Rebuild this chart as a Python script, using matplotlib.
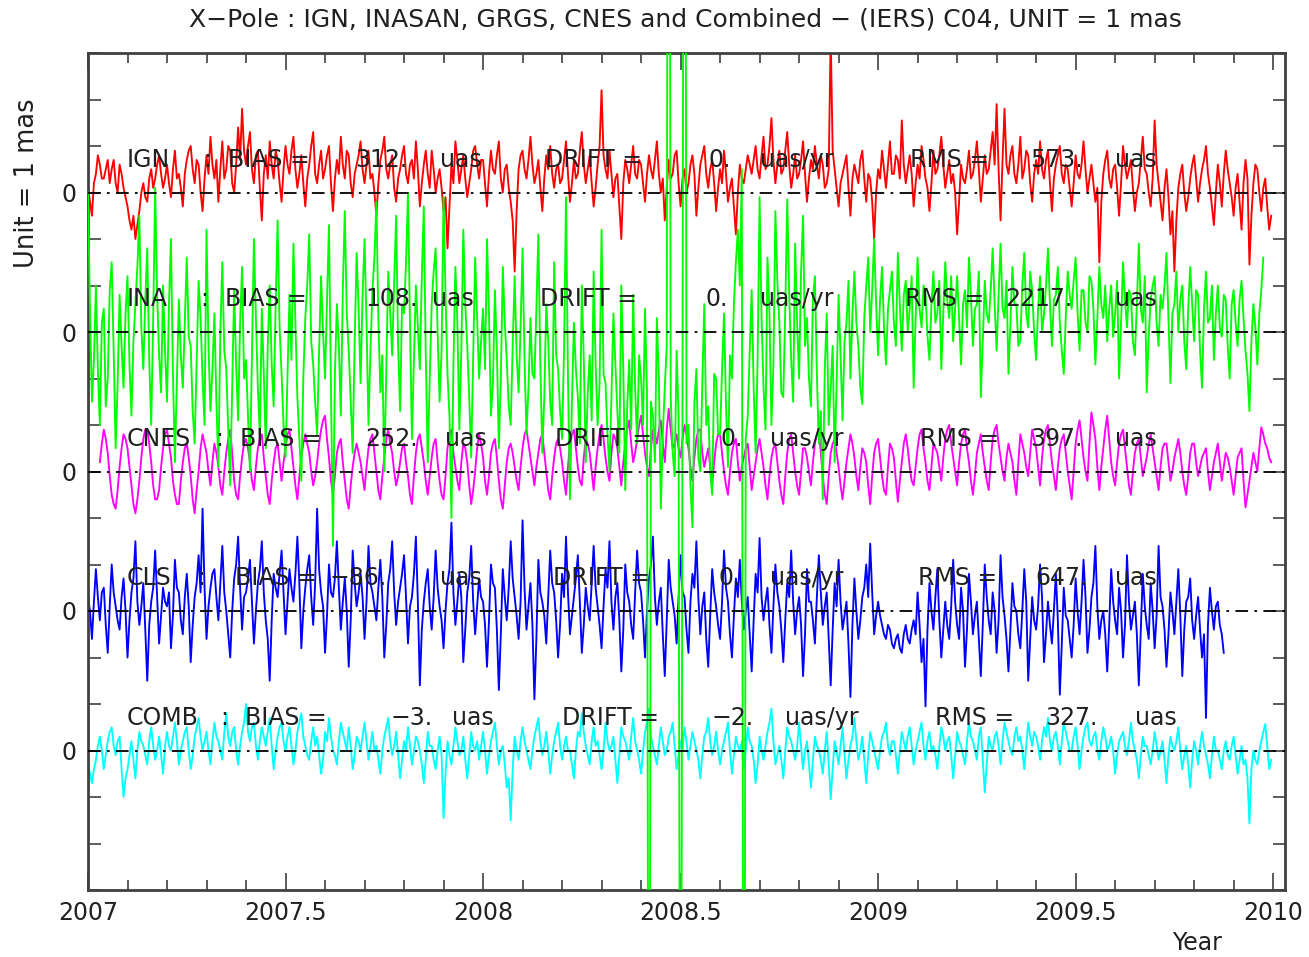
import numpy as np
import matplotlib
matplotlib.use("Agg")
import matplotlib.pyplot as plt
from matplotlib.ticker import MultipleLocator, FixedLocator, FuncFormatter

# ---------------- data (mas, relative to each series' zero line) ----------------
step = 0.005
names = ["IGN", "INA", "CNES", "CLS", "COMB"]
bias = [312, 108, 252, -86, -3]
drift = [0, 0, 0, 0, -2]
rms = [573, 2217, 397, 647, 327]
offsets = [12, 9, 6, 3, 0]
colors = ["#ff0000", "#00ff00", "#ff00ff", "#0000ff", "#00ffff"]
starts = [2007.00, 2007.00, 2007.03, 2007.00, 2007.00]

ign = [0.1,-0.2,-0.5,0.2,0.4,0.8,0.6,0.3,0.3,0.5,0.7,0.2,0.5,0.7,0.2,0.0,0.6,0.4,0.1,-0.1,
       -0.3,-0.6,-0.8,-0.5,-1.0,-0.7,-0.4,0.0,0.2,-0.1,-0.2,0.3,0.5,0.1,0.3,0.6,0.8,0.4,0.1,0.3,
       0.6,0.2,-0.1,0.5,0.9,0.3,0.4,0.1,-0.3,0.4,0.7,0.9,1.0,0.5,0.2,0.7,0.6,0.0,-0.4,0.3,
       0.8,0.4,1.2,0.6,0.3,0.7,-0.2,0.5,1.1,0.3,0.5,1.0,0.9,0.2,0.0,0.6,1.4,0.7,1.8,0.9,
       0.6,1.0,1.3,0.5,0.2,0.8,0.9,0.1,-0.6,0.4,0.8,0.3,1.1,0.6,0.3,0.9,0.7,0.2,-0.2,0.5,
       1.0,0.6,0.4,0.9,1.2,0.5,0.1,0.4,0.8,0.2,-0.3,0.3,0.6,1.0,1.3,0.4,0.2,0.6,0.9,0.3,
       0.5,0.8,1.0,0.2,-0.4,0.3,0.7,0.4,1.2,0.6,0.3,0.9,0.8,0.2,-0.1,0.4,0.6,0.8,1.1,0.5,
       0.2,0.6,0.9,0.3,0.4,0.0,-0.5,0.2,0.7,0.9,1.2,0.5,0.3,0.6,0.8,0.1,-0.2,0.3,0.5,0.8,
       1.0,0.4,0.2,0.6,0.7,0.3,1.1,0.5,-0.3,0.2,0.6,0.9,0.4,0.1,0.9,0.5,0.0,0.3,0.5,0.1,
       -0.4,-0.1,-1.2,-0.3,0.6,0.2,1.1,0.7,0.2,0.5,0.8,0.3,-0.1,0.2,0.5,0.9,1.0,0.6,0.3,0.7,
       0.7,0.2,-0.3,0.4,0.9,0.5,0.4,0.8,1.1,0.3,0.0,0.5,0.6,0.1,-0.2,-0.6,-1.7,-0.4,0.5,0.8,
       0.9,0.5,0.3,0.7,1.2,0.6,0.2,0.4,0.7,0.1,-0.4,0.3,0.8,0.5,1.0,0.4,0.1,0.5,0.6,0.2,
       0.3,0.7,1.1,0.4,-0.2,0.2,0.7,0.3,0.4,0.9,1.3,0.6,0.2,0.5,0.8,0.2,-0.3,0.1,0.6,1.0,
       2.2,0.8,0.5,0.3,0.9,0.4,-0.1,0.3,0.4,-0.3,-1.0,0.2,0.7,0.5,0.2,0.6,1.0,0.4,0.3,0.7,
       0.6,0.2,-0.2,0.4,0.8,0.5,0.3,0.7,1.1,0.4,0.0,0.3,-0.6,0.1,0.7,0.3,0.4,0.8,0.9,0.2,
       -0.3,0.3,0.5,0.0,0.2,0.6,0.8,0.4,-0.5,0.1,0.6,0.8,1.0,0.4,0.1,0.5,0.7,0.2,-0.4,0.1,
       0.5,0.2,0.9,0.4,-0.2,0.1,0.3,-0.3,-0.9,0.0,0.6,0.3,0.2,0.5,0.8,0.6,0.4,0.7,1.0,0.5,
       0.3,0.8,1.2,0.5,0.6,1.0,1.6,0.7,0.2,0.6,0.9,0.4,0.5,0.9,1.3,0.6,0.1,0.4,0.8,0.3,
       0.4,0.7,1.1,0.4,-0.2,0.3,0.7,0.5,1.0,0.6,0.3,0.8,0.6,0.1,0.2,0.5,3.4,0.9,0.5,0.1,
       -0.3,0.2,0.4,0.6,0.8,0.1,-0.5,0.3,0.6,0.4,0.2,0.7,0.9,0.3,-0.2,0.4,0.3,-0.2,-1.0,0.0,
       0.5,0.3,0.9,0.5,0.1,0.6,1.1,0.4,0.4,0.8,0.7,0.3,1.55,0.6,0.2,0.5,0.8,0.4,-0.3,0.2,
       0.6,0.3,1.0,0.7,0.3,0.1,-0.4,0.2,0.9,0.4,0.5,0.8,1.2,0.6,0.1,0.4,0.7,0.2,0.4,0.0,
       -0.9,-0.2,0.6,0.3,0.2,0.5,0.9,0.3,0.4,0.7,1.1,0.5,-0.2,0.3,0.8,0.4,0.5,0.9,1.3,0.6,
       1.9,0.5,-0.6,0.7,1.8,0.6,0.4,0.8,1.0,0.4,0.2,0.6,1.2,0.3,0.5,0.9,0.8,0.2,-0.2,0.4,
       0.7,0.4,1.1,0.5,0.3,0.7,0.9,0.2,-0.4,0.3,0.6,0.8,1.0,0.4,0.2,0.6,0.5,0.1,-0.3,0.2,
       0.8,0.4,0.3,0.6,1.1,0.5,0.0,0.3,0.6,0.2,-0.2,0.1,-1.5,-0.2,0.4,0.7,0.9,0.3,0.1,0.5,
       0.6,0.1,-0.5,0.2,1.0,0.6,0.3,0.5,0.7,0.1,-0.4,0.0,0.2,0.7,1.2,0.5,0.4,0.0,-0.3,0.3,
       1.55,0.6,0.2,-0.2,-0.6,0.1,0.5,-0.1,-0.9,-0.4,-1.7,-0.6,0.1,0.4,0.6,0.0,-0.4,-0.1,0.3,0.6,
       0.8,0.3,-0.2,0.2,0.5,0.7,1.0,0.4,0.1,-0.3,-0.7,0.0,0.6,0.2,-0.3,0.4,0.9,0.5,0.2,-0.1,
       -0.5,0.1,0.4,-0.2,-0.8,0.2,0.7,0.3,-1.55,-0.5,0.2,0.6,0.5,0.0,-0.4,0.1,0.3,-0.3,-0.8,-0.5]

ina = [3.0,0.5,-1.5,-0.6,1.0,-0.8,-2.0,0.2,0.5,-1.6,-1.0,0.9,1.5,-0.4,-2.5,-1.1,0.8,-0.3,-1.2,0.4,
       1.2,-0.7,-1.8,-0.2,0.6,1.4,2.5,0.1,-0.8,0.7,1.8,-0.6,-2.0,0.3,3.1,0.8,-0.5,-1.3,1.0,-0.4,
       -1.5,0.6,2.0,-0.9,-2.8,-1.0,0.7,-0.5,-1.2,0.2,1.6,-0.1,-0.3,-1.7,-2.4,-0.6,1.1,0.3,-1.0,-2.0,
       2.2,-0.3,-1.7,-0.8,0.4,-1.5,-2.9,0.0,1.5,-0.4,-0.8,-2.1,-3.3,-1.2,0.9,-0.7,-1.9,0.2,1.4,-1.0,
       -0.6,-1.8,-3.0,-0.5,2.0,0.3,-1.2,-2.2,0.5,-0.9,-2.5,-0.3,1.0,-0.7,-1.6,0.6,2.4,0.1,-0.9,-2.0,
       -2.7,-0.9,0.8,-0.6,1.9,0.2,-1.4,-2.3,-3.2,-1.0,0.3,1.0,2.1,-0.2,-0.7,-1.5,-2.2,-0.4,1.2,0.0,
       -1.0,0.7,2.3,-1.2,-4.6,-0.9,0.6,-0.3,-1.8,0.9,2.6,0.4,-0.4,-1.5,-2.6,-0.2,1.7,0.5,-1.1,0.8,
       2.0,0.2,-2.0,-0.4,0.9,1.6,2.8,0.3,-1.3,-0.5,-3.0,-0.8,1.3,0.4,-0.5,1.1,2.5,-0.3,-1.7,0.6,
       0.4,1.5,3.0,0.2,-2.3,-0.6,1.0,0.1,-0.8,1.2,2.7,-0.5,-2.8,-1.0,0.6,1.3,1.8,0.0,-1.5,-0.4,
       2.9,0.8,-0.9,-1.8,-4.0,-0.7,1.4,0.2,-2.1,-0.4,2.2,0.6,-0.3,-1.4,-2.7,-0.5,1.6,0.3,-1.0,-0.2,
       0.5,-0.8,2.0,0.4,-1.8,-1.1,0.9,-0.4,-2.5,-1.0,1.4,0.2,-0.6,-1.6,-2.0,-0.3,1.2,-0.5,-1.3,0.1,
       1.8,-0.6,-2.2,-1.2,0.3,-0.9,-1.0,0.5,2.1,-0.7,-2.6,-1.4,0.6,-0.2,-1.5,-2.0,1.5,-0.5,-0.8,-1.7,
       -2.3,-0.4,2.9,-1.0,-3.6,-1.5,0.2,-0.8,-1.4,-2.4,1.0,-0.6,-2.8,-1.3,-0.5,-1.9,1.3,-0.7,-2.0,-1.1,
       2.2,-0.9,-1.1,-2.2,-3.0,-1.4,0.4,-0.7,-1.7,-2.6,1.0,-0.8,-3.4,-1.6,-0.6,-2.1,0.8,-1.2,-2.4,-0.5,
       -1.0,-2.0,0.5,-1.3,-25.0,-1.5,-1.8,-2.8,0.3,-1.0,-3.8,-2.2,-1.2,-0.3,25.0,-1.4,-2.6,-3.1,-0.4,-1.8,
       -25.0,-1.2,25.0,-2.4,-2.0,-3.3,-4.2,-1.5,-0.8,-2.7,-3.0,-1.1,0.6,-2.0,-1.6,-3.0,-3.5,-0.9,-1.0,-2.2,
       -2.2,-0.8,0.4,-1.6,-2.9,-0.5,-1.0,0.6,1.5,2.2,1.0,3.5,-25.0,-2.3,-1.8,-0.4,0.9,-1.2,-2.6,-0.6,
       2.9,0.3,-1.2,-2.1,1.6,0.4,-2.0,-0.7,2.6,1.1,0.2,-1.3,-1.4,0.5,2.85,0.8,-0.6,-1.5,1.9,0.2,
       -1.0,1.3,2.5,-0.3,0.3,-1.0,-1.6,0.7,1.2,-0.9,-2.4,-1.7,-3.6,-0.8,0.4,-2.0,-1.2,-0.3,-2.8,-1.1,
       0.8,-0.5,-1.9,-0.2,0.2,1.1,-1.0,0.4,1.3,0.2,-0.3,-1.2,-1.55,0.3,1.0,1.6,0.0,0.9,2.0,0.6,
       -0.5,0.7,1.4,0.1,-0.7,0.5,0.9,1.3,0.2,-0.3,1.7,0.6,-0.4,0.8,1.1,0.0,0.5,1.2,-1.2,0.3,
       1.6,0.5,0.1,1.0,0.8,-0.1,-0.6,0.6,1.3,0.2,0.4,1.1,-0.8,0.4,1.5,0.7,0.3,1.2,-0.2,0.5,
       1.2,0.3,-0.7,0.6,0.9,0.1,1.6,0.8,-0.3,0.5,0.6,1.3,-1.4,-0.2,1.1,0.4,0.2,0.9,1.8,0.6,
       -0.4,0.8,1.9,0.5,0.3,1.1,-0.9,0.2,1.4,0.6,0.6,-0.3,-0.2,1.0,1.7,0.4,0.1,1.3,0.9,0.0,
       -0.6,0.5,1.2,0.0,0.4,1.0,1.8,0.6,-0.3,0.7,0.8,1.4,0.2,-0.4,-0.9,0.3,1.3,0.8,0.5,1.1,
       1.6,0.4,-0.4,0.9,0.9,0.2,0.0,1.2,1.1,0.5,-0.7,0.3,1.4,0.6,0.3,1.0,-0.2,0.5,1.0,-0.1,
       0.4,1.1,-1.0,0.2,1.5,0.7,0.1,0.9,0.8,-0.2,-0.5,0.6,1.9,0.5,0.2,1.2,-1.3,-0.1,0.7,1.0,
       1.2,0.2,-0.3,0.8,0.5,1.0,1.7,0.3,-1.1,0.4,0.6,1.3,0.0,0.7,1.0,-0.2,-0.8,0.5,1.4,0.6,
       -0.2,0.9,0.8,-0.4,-1.2,0.5,1.3,0.2,0.3,1.0,-0.6,0.4,1.0,0.1,-0.1,0.8,0.7,-0.3,-1.0,0.6,
       0.9,0.2,-0.3,0.7,1.1,0.3,-0.4,-0.9,-1.7,-0.2,0.6,0.1,-0.7,0.4,0.9,1.6]

cnes = [0.2,0.6,0.9,0.7,0.4,-0.1,-0.5,-0.7,-0.8,-0.4,0.1,0.5,0.8,0.7,
        0.5,0.1,-0.3,-0.7,-0.9,-0.6,-0.2,0.3,0.7,0.9,0.9,0.6,0.2,-0.3,-0.6,-0.6,-0.4,0.1,0.5,0.8,
        0.9,0.6,0.3,-0.2,-0.5,-0.7,-0.7,-0.2,0.2,0.5,0.6,0.3,-0.1,-0.6,-0.9,-0.4,0.0,0.5,0.8,0.6,
        0.4,0.0,-0.3,0.2,0.6,0.4,0.1,-0.3,-0.5,0.0,0.4,0.7,0.9,0.4,-0.2,-0.5,-0.6,-0.1,0.3,0.6,
        0.7,0.5,0.2,-0.2,-0.4,0.1,0.5,0.7,0.8,0.3,-0.1,-0.5,-0.7,-0.2,0.2,0.5,0.6,0.2,-0.2,0.2,
        0.5,0.8,0.9,0.5,0.1,-0.3,-0.6,-0.1,0.3,0.6,0.8,0.6,0.4,0.0,-0.3,-0.1,0.2,0.6,0.9,1.1,
        1.2,0.7,0.3,-0.2,-0.5,-0.1,0.4,0.6,0.7,0.2,-0.2,-0.6,-0.8,-0.3,0.1,0.4,0.6,0.4,0.2,-0.1,
        -0.4,0.1,0.5,0.7,0.8,0.4,0.0,-0.4,-0.6,-0.1,0.3,0.7,0.9,0.6,0.4,0.0,-0.3,-0.1,0.2,0.5,
        0.6,0.2,-0.1,-0.5,-0.7,-0.1,0.4,0.7,0.8,0.5,0.2,-0.2,-0.5,-0.1,0.3,0.6,0.7,0.2,-0.2,-0.5,
        -0.6,-0.1,0.5,0.8,0.9,0.4,0.1,-0.2,-0.4,0.2,0.6,0.5,0.2,-0.3,-0.7,-0.4,0.0,0.5,0.8,0.6,
        0.3,-0.2,-0.5,-0.1,0.4,0.6,0.7,0.3,-0.2,-0.6,-0.8,-0.3,0.2,0.5,0.6,0.4,0.1,-0.2,-0.4,0.1,
        0.5,0.8,0.9,0.6,0.3,0.0,-0.3,0.1,0.4,0.7,0.8,0.4,0.0,-0.4,-0.6,-0.1,0.3,0.6,0.7,0.5,
        0.2,-0.2,-0.5,0.1,0.6,0.8,0.9,0.5,0.1,-0.2,-0.3,0.3,0.7,0.6,0.4,0.0,-0.4,0.1,0.5,0.8,
        1.0,0.7,0.3,0.0,-0.2,0.4,0.8,0.7,0.5,0.1,-0.3,0.2,0.6,0.9,1.1,0.6,0.2,0.4,0.7,1.0,
        1.2,0.8,0.4,0.1,-0.1,0.5,0.9,0.8,0.6,0.9,1.1,0.6,0.2,0.9,1.35,0.9,0.5,0.6,0.8,0.5,
        0.3,0.7,1.0,0.8,0.5,0.1,-0.2,0.3,0.7,0.9,0.9,0.4,0.1,0.3,0.5,0.1,-0.3,0.2,0.6,0.8,
        0.8,0.4,0.0,-0.3,-0.5,0.0,0.4,0.6,0.7,0.2,-0.2,0.1,0.3,0.5,0.6,0.1,-0.4,-0.1,0.2,0.5,
        0.7,0.4,0.1,-0.3,-0.6,-0.1,0.3,0.5,0.6,0.2,-0.2,-0.5,-0.7,-0.1,0.4,0.7,0.8,0.4,0.0,-0.3,
        -0.5,0.0,0.5,0.5,0.3,0.0,-0.3,0.2,0.6,0.8,0.9,0.4,-0.1,-0.5,-0.7,-0.1,0.4,0.6,0.7,0.4,
        0.1,-0.3,-0.6,-0.2,0.2,0.5,0.8,0.6,0.3,-0.1,-0.4,0.1,0.5,0.4,0.2,-0.3,-0.7,-0.1,0.4,0.6,
        0.7,0.3,-0.1,-0.4,-0.5,0.1,0.6,0.5,0.3,-0.2,-0.65,-0.2,0.2,0.6,0.8,0.5,0.1,-0.2,-0.3,0.1,
        0.5,0.8,0.9,0.5,0.2,-0.2,-0.4,0.1,0.6,0.5,0.4,0.1,-0.2,0.3,0.7,0.9,1.0,0.6,0.3,0.0,
        -0.3,0.2,0.6,0.8,0.9,0.5,0.2,-0.2,-0.5,-0.1,0.4,0.6,0.8,0.4,0.1,-0.2,-0.4,0.2,0.7,0.9,
        1.0,0.6,0.3,0.0,-0.2,0.3,0.6,0.4,0.2,-0.2,-0.5,0.2,0.8,0.6,0.4,0.1,-0.1,0.4,0.9,0.7,
        0.5,0.1,-0.3,0.3,0.7,0.9,1.0,0.6,0.2,-0.1,-0.4,0.1,0.5,0.7,0.8,0.4,0.0,-0.3,-0.6,0.0,
        0.6,0.9,1.1,0.7,0.3,0.0,-0.2,0.6,1.27,1.0,0.7,0.1,-0.4,0.1,0.5,0.9,1.2,0.7,0.2,-0.1,
        -0.3,0.2,0.6,0.8,0.9,0.5,0.1,-0.3,-0.5,0.0,0.4,0.6,0.7,0.3,-0.1,0.1,0.3,0.6,0.8,0.5,
        0.2,-0.1,-0.4,0.1,0.5,0.6,0.6,0.2,-0.2,0.0,0.3,0.5,0.7,0.4,0.0,-0.3,-0.5,-0.1,0.4,0.6,
        0.6,0.2,-0.1,0.1,0.3,0.4,0.5,0.0,-0.4,-0.1,0.2,0.4,0.6,0.2,-0.2,0.1,0.4,0.3,0.1,-0.2,
        -0.5,-0.1,0.3,0.4,0.5,-0.2,-0.77,-0.5,-0.2,0.1,0.4,0.2,0.0,0.5,0.95,0.8,0.6,0.5,0.3,0.2]

cls = [0.3,0.0,-0.6,0.2,0.9,0.3,-0.2,0.4,0.5,-0.3,-0.9,0.1,1.0,0.4,0.1,-0.2,-0.4,0.3,0.7,0.0,
       -1.0,-0.2,0.4,0.7,1.5,0.2,-0.3,0.1,0.6,-0.4,-1.5,-0.3,0.2,0.5,1.3,0.3,-0.7,-0.1,0.5,0.2,
       0.1,0.4,-0.8,-0.1,1.1,0.5,0.4,-0.2,-0.5,0.3,0.8,0.1,-1.1,-0.3,0.3,0.6,1.2,0.4,2.2,0.5,
       -0.6,0.1,0.5,0.8,0.9,0.3,-0.2,0.6,1.4,0.4,0.0,-0.5,-1.0,0.0,0.7,1.0,1.6,0.5,-0.4,0.3,
       0.4,0.7,1.1,0.2,-0.7,0.0,0.6,0.9,1.5,0.4,-0.2,-0.6,-1.5,-0.2,0.8,0.5,0.3,0.8,1.3,0.4,
       -0.5,0.2,0.9,0.5,0.2,0.8,1.6,0.6,-0.8,0.0,0.5,0.9,1.2,0.3,-0.3,0.6,2.2,0.9,0.4,0.1,
       -0.9,-0.1,1.0,0.4,0.3,0.7,1.5,0.5,-0.4,0.2,0.7,0.0,-1.2,-0.2,1.3,0.6,0.1,0.4,0.8,0.3,
       -0.6,0.2,1.4,0.6,0.4,0.1,-0.2,0.5,1.1,0.3,-1.0,-0.3,0.6,0.9,1.5,0.4,-0.3,0.2,0.5,0.8,
       1.2,0.3,-0.7,0.1,0.3,0.8,1.6,0.2,-1.6,-0.4,0.2,0.6,0.9,0.1,-0.4,0.3,1.3,0.5,0.1,-0.2,
       -0.8,0.0,0.6,0.9,1.9,0.4,-0.3,0.2,0.8,0.3,-1.1,-0.4,0.4,0.7,1.4,0.2,-0.5,0.1,0.7,0.3,
       0.2,-0.3,-1.2,-0.2,1.0,0.6,0.5,-0.4,-1.7,-0.5,0.9,0.3,-0.2,0.5,1.5,0.7,0.3,-0.1,-0.6,0.2,
       1.95,0.5,-0.4,0.1,0.6,-0.3,-1.9,-0.6,1.1,0.4,0.2,-0.1,-0.7,0.3,1.3,0.6,0.4,-0.2,-1.0,-0.3,
       0.8,0.3,1.6,0.4,-0.5,-0.1,0.3,0.7,1.2,0.2,-0.9,-0.3,0.5,0.1,-0.2,0.6,1.4,0.5,0.1,-0.3,
       -0.8,0.1,0.9,0.5,1.5,0.2,-0.4,0.3,0.6,-0.2,-1.3,-0.4,1.0,0.4,0.2,-0.3,-0.6,0.4,1.3,0.6,
       0.4,-0.2,-1.0,0.0,0.7,1.0,1.6,0.3,-0.3,0.2,0.5,-0.5,-1.4,-0.2,1.1,0.5,0.2,-0.1,-0.7,0.3,
       1.2,0.4,0.3,-0.4,-0.9,0.2,0.8,0.5,1.5,0.3,-0.5,0.1,0.4,-0.6,-1.2,-0.1,0.9,0.4,0.1,-0.3,
       -0.6,0.2,1.3,0.5,0.2,-0.5,-1.0,-0.1,0.7,0.3,1.1,0.2,-0.4,0.0,0.3,-0.5,-1.3,-0.2,0.8,0.4,
       1.57,0.3,-0.2,0.2,0.5,-0.3,-0.9,0.1,1.0,0.4,0.1,-0.4,-1.1,-0.2,0.6,0.3,1.3,0.2,-0.5,0.0,
       0.3,-0.3,-1.4,-0.5,0.9,0.2,0.2,-0.2,-0.7,0.3,1.2,0.4,-0.3,0.1,0.4,-0.6,-1.6,-0.4,0.6,0.1,
       1.1,0.2,-0.4,-0.1,0.2,-0.7,-1.85,-0.3,0.7,0.0,-0.6,-0.2,0.3,0.5,1.0,0.3,1.45,0.4,-0.5,-0.1,
       0.2,-0.1,-0.3,-0.5,-0.6,-0.3,-0.4,-0.7,-0.8,-0.6,-0.5,-0.8,-0.9,-0.5,-0.3,-0.6,-0.7,-0.4,-0.2,-0.5,
       0.4,-0.3,-1.1,-0.6,-2.05,-0.4,0.6,0.0,-0.4,0.3,0.9,-0.2,-1.0,-0.4,0.2,-0.3,-0.6,0.1,1.1,0.2,
       -0.3,-0.6,0.5,0.0,-1.2,-0.4,0.8,0.2,-0.5,-0.1,0.2,-0.6,-1.4,-0.3,1.0,0.3,-0.2,-0.5,0.4,0.0,
       -0.9,-0.2,1.2,0.3,-0.1,-0.6,-1.3,-0.4,0.6,0.1,0.0,-0.5,-0.8,0.0,0.9,0.2,-1.5,-0.6,0.3,-0.2,
       -0.4,0.1,1.0,0.3,-1.1,-0.5,0.2,-0.3,-0.7,0.0,0.8,-0.2,-1.8,-0.7,0.5,-0.1,-0.2,-0.6,-1.0,-0.3,
       0.7,0.0,-0.5,0.2,1.1,0.3,-0.9,-0.4,0.3,0.6,1.4,0.1,-0.6,-0.2,0.0,-0.5,-1.3,-0.3,0.9,0.2,
       -0.2,-0.5,0.5,0.0,-1.0,-0.3,1.2,0.2,-0.4,-0.1,0.2,-0.5,-1.6,-0.4,0.8,0.1,-0.3,-0.6,0.6,0.0,
       -0.8,-0.1,1.4,0.3,0.1,-0.4,-1.2,-0.5,0.4,0.0,-0.5,0.2,0.9,-0.1,-1.4,-0.4,0.2,0.3,0.7,-0.2,
       -0.6,-0.1,0.3,-0.4,-1.0,-0.5,-2.3,-0.3,0.5,0.0,-0.4,0.1,0.2,-0.3,-0.5,-0.9]

comb = [-0.3,-0.5,-0.7,-0.4,-0.2,0.1,0.3,0.0,-0.4,-0.1,0.2,0.4,0.5,0.1,-0.1,0.2,0.3,-0.4,-1.0,-0.6,
        -0.4,-0.1,0.2,-0.2,-0.6,0.0,0.4,0.2,0.1,-0.1,-0.3,0.2,0.5,0.1,-0.2,0.0,0.3,-0.1,-0.5,0.1,
        0.4,0.1,0.0,0.3,0.6,0.2,-0.3,0.0,0.2,0.4,0.5,0.0,-0.4,-0.1,0.3,0.5,0.7,0.3,0.0,0.2,
        0.4,0.0,-0.3,0.2,0.6,0.3,0.2,0.0,-0.2,0.4,0.8,0.3,0.1,0.4,0.5,0.0,-0.3,0.1,0.4,0.6,
        1.0,0.4,0.2,0.5,0.6,0.1,-0.2,0.2,0.5,0.3,0.1,0.4,0.7,0.1,-0.4,0.0,0.3,0.5,0.6,0.2,
        0.0,0.3,0.5,0.1,-0.3,0.0,0.4,0.6,0.8,0.3,0.1,-0.1,-0.2,0.2,0.5,0.1,0.3,-0.1,-0.5,-0.2,
        0.4,0.2,0.7,0.3,0.0,-0.1,-0.3,0.2,0.6,0.4,0.2,0.0,0.5,0.1,-0.4,-0.1,0.3,0.2,0.0,0.3,
        0.6,0.2,-0.2,0.1,0.4,0.0,0.1,-0.2,-0.5,0.0,0.3,0.5,0.7,0.2,-0.1,0.1,0.4,-0.1,-0.6,-0.2,
        0.2,0.0,0.5,0.1,-0.3,0.0,0.3,0.2,0.0,-0.3,-0.7,-0.2,0.4,0.1,0.1,-0.2,-0.4,0.0,0.3,-0.1,
        -1.45,-0.5,0.2,-0.1,-0.3,0.1,0.5,0.2,-0.1,0.0,0.3,-0.2,-0.6,-0.1,0.4,0.1,0.0,0.2,-0.2,0.1,
        0.4,0.0,-0.5,-0.1,0.2,0.4,0.6,0.1,-0.3,0.0,0.1,-0.3,-0.8,-0.6,-1.5,-0.4,0.3,0.0,-0.2,0.2,
        0.5,0.2,0.0,-0.2,-0.4,0.0,0.3,0.5,0.7,0.2,-0.1,0.1,0.4,0.0,-0.5,-0.1,0.2,0.4,0.6,0.1,
        -0.2,0.1,0.3,0.0,0.0,-0.3,-0.6,0.0,0.4,0.3,0.8,0.4,0.1,-0.1,-0.3,0.2,0.5,0.1,0.2,-0.1,
        -0.4,0.0,0.6,0.2,0.0,0.1,0.3,-0.2,-0.7,-0.1,0.5,0.3,0.2,0.0,-0.2,0.3,0.7,0.2,0.0,-0.2,
        -0.5,0.0,0.4,0.6,0.9,0.3,0.1,-0.1,-0.3,0.1,0.5,0.2,-0.1,0.0,0.3,0.4,0.6,0.1,-0.4,-0.1,
        0.2,0.0,0.5,0.2,-0.2,0.1,0.4,0.2,0.0,-0.2,-0.6,-0.1,0.3,0.4,0.7,0.2,-0.1,0.1,0.4,0.0,
        -0.3,0.0,0.2,0.4,0.6,0.0,-0.5,-0.1,0.3,0.1,0.0,0.2,-0.4,0.0,0.5,0.2,0.1,-0.2,-0.7,-0.3,
        0.3,0.0,-0.2,0.1,0.4,0.6,0.9,0.2,-0.3,-0.1,0.1,-0.2,-0.6,0.0,0.5,0.3,0.2,0.0,-0.2,0.1,
        0.6,0.1,-0.4,0.0,0.2,-0.3,-0.8,-0.2,0.3,0.1,0.0,-0.2,-0.5,0.0,0.4,-0.3,-1.05,-0.4,0.2,0.0,
        -0.3,0.1,0.5,-0.1,-0.6,-0.2,0.1,0.3,0.7,0.2,-0.2,0.0,0.3,-0.2,-0.7,-0.1,0.4,0.2,0.0,-0.2,
        -0.4,0.0,0.3,0.4,0.6,0.1,-0.1,0.2,0.2,-0.1,-0.5,0.0,0.4,0.2,0.0,0.3,0.5,0.1,-0.3,0.0,
        0.2,0.4,0.6,0.1,-0.2,0.2,0.4,0.0,0.1,-0.1,-0.4,0.1,0.5,0.3,0.0,0.2,0.3,-0.1,-0.6,-0.1,
        0.4,0.2,0.1,-0.1,-0.3,0.2,0.6,0.3,0.2,0.0,-0.2,0.3,0.5,-0.2,-0.9,-0.3,0.3,0.1,0.0,0.3,
        0.4,0.1,-0.3,0.2,0.6,0.4,0.2,0.0,-0.1,0.3,0.5,0.2,0.3,0.0,-0.4,0.1,0.6,0.3,0.1,0.4,
        0.3,0.1,-0.2,0.2,0.5,0.3,0.7,0.2,0.0,0.3,0.4,0.1,-0.3,0.2,0.6,0.4,0.2,0.0,0.0,0.3,
        0.5,0.1,-0.4,0.0,0.3,0.5,0.6,0.2,0.1,0.3,0.4,0.0,-0.2,0.2,0.5,0.3,0.0,0.1,0.3,0.0,
        -0.5,-0.1,0.2,0.3,0.4,0.1,-0.1,0.2,0.6,0.2,0.0,-0.2,-0.6,-0.1,0.3,0.1,0.1,-0.1,-0.3,0.0,
        0.4,0.1,-0.2,0.0,0.2,-0.2,-0.7,-0.1,0.3,0.1,0.0,0.2,0.5,0.0,-0.4,-0.1,0.1,-0.3,-0.8,-0.2,
        0.2,0.0,-0.3,0.1,0.4,0.1,-0.1,-0.3,-0.6,-0.1,0.3,0.0,0.0,-0.2,-0.4,0.0,0.2,-0.1,-0.2,0.1,
        0.3,-0.1,-0.5,-0.2,0.1,-0.3,-0.2,-0.6,-1.57,-0.4,0.0,-0.2,-0.3,0.0,0.2,0.4,0.57,0.1,-0.4,-0.2]

series = [ign, ina, cnes, cls, comb]

# ---------------- layout ----------------
W, H = 1309, 957
AX_L, AX_R, AX_T, AX_B = 88, 1285, 53, 890
XMIN, XMAX = 2007.0, 2010.03

def px2yr(px):
    return XMIN + (px - AX_L) / (AX_R - AX_L) * (XMAX - XMIN)

plt.rcParams["font.family"] = ["DejaVu Sans"]
fig = plt.figure(figsize=(W / 100, H / 100), dpi=100)
ax = fig.add_axes([AX_L / W, 1 - AX_B / H, (AX_R - AX_L) / W, (AX_B - AX_T) / H])
ax.set_xlim(XMIN, XMAX)
ax.set_ylim(-3, 15)

draw_order = [0, 2, 3, 4, 1]
for k in draw_order:
    vals = np.array(series[k])
    x = starts[k] + step * np.arange(len(vals))
    ax.plot(x, vals + offsets[k], color=colors[k], lw=1.35, zorder=2 + (k == 1))

for off in offsets:
    ax.axhline(off, color="black", lw=1.3, ls=(0, (7, 3.5, 1.5, 3.5)), zorder=5)

# row annotations: left edges (pixels) of each text field
field_px = {
    "IGN":  [127, 203, 228, 355, 440, 545, 708, 760, 910, 1030, 1115],
    "INA":  [127, 200, 225, 365, 432, 540, 705, 760, 905, 1005, 1115],
    "CNES": [127, 215, 240, 365, 445, 555, 720, 770, 920, 1030, 1115],
    "CLS":  [127, 197, 235, 330, 440, 553, 718, 770, 918, 1035, 1115],
    "COMB": [127, 220, 245, 390, 452, 562, 712, 785, 935, 1045, 1135],
}

def fmt(v):
    return ("\u2212" if v < 0 else "") + f"{abs(v)}."

for k, nm in enumerate(names):
    strings = [nm, ":", "BIAS =", fmt(bias[k]), "uas", "DRIFT =", fmt(drift[k]),
               "uas/yr", "RMS =", fmt(rms[k]), "uas"]
    for px, s in zip(field_px[nm], strings):
        ax.text(px2yr(px), offsets[k] + 0.7, s, fontsize=17, color="#202020",
                ha="left", va="center", zorder=6)

# ticks
ax.xaxis.set_major_locator(MultipleLocator(0.5))
ax.xaxis.set_minor_locator(MultipleLocator(0.1))
ax.xaxis.set_major_formatter(FuncFormatter(lambda v, p: f"{v:g}"))
ax.yaxis.set_major_locator(FixedLocator(offsets))
ax.yaxis.set_minor_locator(MultipleLocator(1))
ax.yaxis.set_major_formatter(FuncFormatter(lambda v, p: "0"))
ax.tick_params(which="both", direction="in", top=True, right=True,
               color="#404040", width=1.2, labelsize=17, labelcolor="#202020")
ax.tick_params(axis="x", which="major", length=12, pad=8)
ax.tick_params(axis="x", which="minor", length=7)
ax.tick_params(axis="y", which="both", length=9, pad=8)
for sp in ax.spines.values():
    sp.set_color("#404040")
    sp.set_linewidth(2)

fig.text(685 / W, 1 - 20 / H,
         "X\u2212Pole : IGN, INASAN, GRGS, CNES and Combined \u2212 (IERS) C04, UNIT = 1 mas",
         ha="center", va="center", fontsize=18, color="#202020")
fig.text(27 / W, 1 - 183 / H, "Unit = 1 mas", rotation=90, ha="center",
         va="center", fontsize=18.5, color="#202020")
fig.text(1197 / W, 1 - 943 / H, "Year", ha="center", va="center",
         fontsize=17, color="#202020")

fig.savefig("out.png", dpi=100, facecolor="white")
